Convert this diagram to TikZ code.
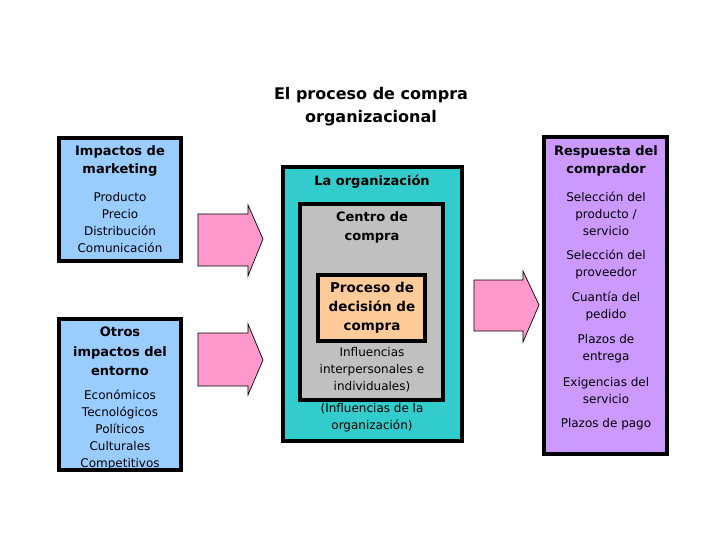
\documentclass[tikz,border=0pt]{standalone}
\usepackage{fontspec}
\setmainfont{DejaVu Sans}
\definecolor{lblue}{HTML}{99CCFF}
\definecolor{teal2}{HTML}{33CCCC}
\definecolor{grey2}{HTML}{C0C0C0}
\definecolor{orange2}{HTML}{FFCC99}
\definecolor{purple2}{HTML}{CC99FF}
\definecolor{pink2}{HTML}{FF99CC}
\tikzset{
  box/.style={draw=black, line width=3.8pt},
  arr/.style={draw=black, line width=0.7pt, fill=pink2, line join=miter},
  head/.style={align=center, font=\fontsize{13}{18.5}\selectfont\bfseries, inner sep=0pt},
  body/.style={align=center, font=\fontsize{12}{17}\selectfont, inner sep=0pt},
}
\begin{document}
\begin{tikzpicture}[x=1pt,y=-1pt]
\useasboundingbox (0,0) rectangle (720,540);
% boxes
\path[box, fill=lblue] (59,138) rectangle (181,261);
\path[box, fill=lblue] (59,319) rectangle (181,470);
\path[box, fill=teal2] (283,167) rectangle (462,441);
\path[box, fill=grey2] (300,204) rectangle (443,400);
\path[box, fill=orange2] (318,275) rectangle (425,341);
\path[box, fill=purple2] (544,137) rectangle (667,454);
% arrows
\path[arr] (198,214) -- (248,214) -- (248,205) -- (263,239) -- (248,276) -- (248,266) -- (198,266) -- cycle;
\path[arr] (198,333) -- (248,333) -- (248,324) -- (263,360) -- (248,395) -- (248,386) -- (198,386) -- cycle;
\path[arr] (474,280) -- (523,280) -- (523,271) -- (539,305) -- (523,342) -- (523,331) -- (474,331) -- cycle;
% texts
\node[head, font=\fontsize{16}{23}\selectfont\bfseries] (title) at (371,106.5) {El proceso de compra\\organizacional};
\node[head] (imk) at (120,161) {Impactos de\\marketing};
\node[body] (imkb) at (120,222.5) {Producto\\Precio\\Distribución\\Comunicación};
\node[head, font=\fontsize{13}{19.5}\selectfont\bfseries] (oie) at (120,351.5) {Otros\\impactos del\\entorno};
\node[body] (oieb) at (120,430) {Económicos\\Tecnológicos\\Políticos\\Culturales\\Competitivos};
\node[head] (org) at (372,182) {La organización};
\node[head] (cc) at (372,227.5) {Centro de\\compra};
\node[head, font=\fontsize{13.5}{19}\selectfont\bfseries] (pdc) at (372,308) {Proceso de\\decisión de\\compra};
\node[body] (inf1) at (372,370) {Influencias\\interpersonales e\\individuales)};
\node[body] (inf2) at (372,417.5) {(Influencias de la\\organización)};
\node[head] (rc) at (606,161) {Respuesta del\\comprador};
\node[body] (r1) at (606,214) {Selección del\\producto /\\servicio};
\node[body] (r2) at (606,264.5) {Selección del\\proveedor};
\node[body] (r3) at (606,306.5) {Cuantía del\\pedido};
\node[body] (r4) at (606,348.5) {Plazos de\\entrega};
\node[body] (r5) at (606,390.5) {Exigencias del\\servicio};
\node[body] (r6) at (606,424) {Plazos de pago};
\end{tikzpicture}
\end{document}
